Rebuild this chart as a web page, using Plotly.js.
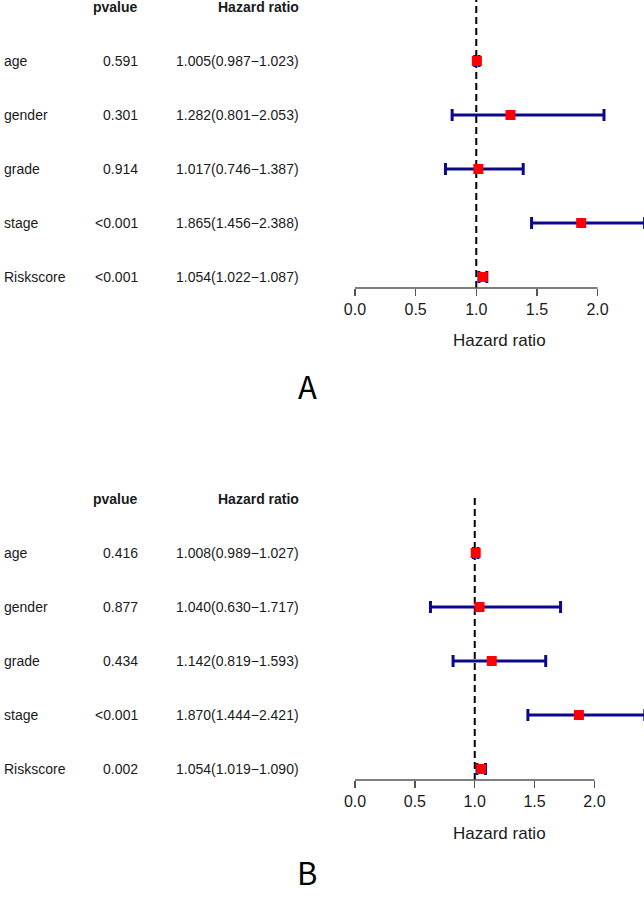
<!DOCTYPE html>
<html>
<head>
<meta charset="utf-8">
<script src="https://cdn.plot.ly/plotly-3.0.1.min.js"></script>
<style>
  body { margin: 0; padding: 0; background: #fff; }
  #chartDiv { width: 644px; height: 903px; }
</style>
</head>
<body>
<div id="chartDiv"></div>
<script>
// chart data
var labels = ['age', 'gender', 'grade', 'stage', 'Riskscore'];

// panel A
var hrA = [1.005, 1.282, 1.017, 1.865, 1.054];
var lowA = [0.987, 0.801, 0.746, 1.456, 1.022];
var highA = [1.023, 2.053, 1.387, 2.388, 1.087];
var pA = ['0.591', '0.301', '0.914', '<0.001', '<0.001'];

// panel B
var hrB = [1.008, 1.040, 1.142, 1.870, 1.054];
var lowB = [0.989, 0.630, 0.819, 1.444, 1.019];
var highB = [1.027, 1.717, 1.593, 2.421, 1.090];
var pB = ['0.416', '0.877', '0.434', '<0.001', '0.002'];

var tickVals = [0, 0.5, 1, 1.5, 2];
var tickText = ['0.0', '0.5', '1.0', '1.5', '2.0'];

var W = 644, H = 903;
var FONT = 'Liberation Sans, Arial, sans-serif';
function px(x) { return x / W; }       // pixel -> paper x
function py(y) { return 1 - y / H; }   // pixel -> paper y

// rows go top to bottom: age on top
var rows = labels.map(function (d, i) { return labels.length - i; });

function hrText(h, l, u) {
    return h.toFixed(3) + '(' + l.toFixed(3) + '\u2212' + u.toFixed(3) + ')';
}

function forestTrace(hr, low, high, xa, ya) {
    return {
        x: hr,
        y: rows,
        xaxis: xa,
        yaxis: ya,
        type: 'scatter',
        mode: 'markers',
        cliponaxis: false,
        hoverinfo: 'skip',
        marker: { symbol: 'square', size: 10, color: '#ff0000' },
        error_x: {
            type: 'data',
            symmetric: false,
            array: high.map(function (u, i) { return u - hr[i]; }),
            arrayminus: low.map(function (l, i) { return hr[i] - l; }),
            color: '#0a0a8c',
            thickness: 3,
            width: 6
        }
    };
}

var data = [
    forestTrace(hrA, lowA, highA, 'x', 'y'),
    forestTrace(hrB, lowB, highB, 'x2', 'y2')
];

// the text table on the left, plus headers and axis labels
var annotations = [];
function tableNotes(pv, hr, low, high, yref, xlabY) {
    var base = { showarrow: false, yref: yref, xref: 'paper', font: { family: FONT, size: 14, color: '#1a1a1a' } };
    annotations.push(Object.assign({}, base, { x: px(140), y: 6, xanchor: 'right', text: '<b>pvalue</b>' }));
    annotations.push(Object.assign({}, base, { x: px(301), y: 6, xanchor: 'right', text: '<b>Hazard ratio</b>' }));
    labels.forEach(function (lab, i) {
        annotations.push(Object.assign({}, base, { x: px(2), y: rows[i], xanchor: 'left', text: lab }));
        annotations.push(Object.assign({}, base, { x: px(140), y: rows[i], xanchor: 'right', text: pv[i] }));
        annotations.push(Object.assign({}, base, { x: px(301), y: rows[i], xanchor: 'right', text: hrText(hr[i], low[i], high[i]) }));
    });
    // x label centred on 0..max(upper), as R's forest plot does
    annotations.push({
        showarrow: false, xref: yref === 'y' ? 'x' : 'x2', yref: 'paper',
        x: Math.max.apply(null, high) / 2, y: py(xlabY), xanchor: 'center', yanchor: 'middle',
        text: 'Hazard ratio', font: { family: FONT, size: 17, color: '#1a1a1a' }
    });
}
tableNotes(pA, hrA, lowA, highA, 'y', 340);
tableNotes(pB, hrB, lowB, highB, 'y2', 833);

// panel letters
annotations.push({ showarrow: false, xref: 'paper', yref: 'paper', x: px(307), y: py(385), text: 'A',
    font: { family: 'Noto Sans CJK SC, DejaVu Sans, sans-serif', size: 31, color: '#000' } });
annotations.push({ showarrow: false, xref: 'paper', yref: 'paper', x: px(307), y: py(896), text: 'B',
    font: { family: 'Noto Sans CJK SC, DejaVu Sans, sans-serif', size: 31, color: '#000' } });

function xAxis(range, anchor) {
    return {
        domain: [0, 1], range: range, anchor: anchor,
        tickmode: 'array', tickvals: tickVals, ticktext: tickText,
        ticks: 'outside', ticklen: 7, tickwidth: 1.5, tickcolor: '#555',
        showline: false, showgrid: false, zeroline: false, fixedrange: true,
        tickfont: { family: FONT, size: 16, color: '#1a1a1a' }
    };
}
function yAxis(domain, range, anchor) {
    return {
        domain: domain, range: range, anchor: anchor, visible: false,
        showgrid: false, zeroline: false, fixedrange: true
    };
}

// dashed reference line at HR = 1 and short axis line from 0 to 2
var shapes = [];
[['x', 'y'], ['x2', 'y2']].forEach(function (ax) {
    shapes.push({ type: 'line', layer: 'below', xref: ax[0], yref: ax[1] + ' domain',
        x0: 1, x1: 1, y0: 0, y1: 1, line: { color: '#000', width: 2, dash: '7px,4px' } });
    shapes.push({ type: 'line', layer: 'below', xref: ax[0], yref: ax[1] + ' domain',
        x0: tickVals[0], x1: tickVals[tickVals.length - 1], y0: 0, y1: 0, line: { color: '#555', width: 1.5 } });
});

var layout = {
    width: W, height: H,
    margin: { l: 0, r: 0, t: 0, b: 0, pad: 0 },
    showlegend: false,
    paper_bgcolor: '#fff', plot_bgcolor: '#fff',
    font: { family: FONT },
    xaxis: xAxis([-2.927, 2.383], 'y'),
    yaxis: yAxis([1 - 288 / H, 1], [0.796, 6.13], 'x'),
    xaxis2: xAxis([-2.966, 2.414], 'y2'),
    yaxis2: yAxis([1 - 780 / H, 1 - 495 / H], [0.796, 6.074], 'x2'),
    shapes: shapes,
    annotations: annotations
};

Plotly.newPlot('chartDiv', data, layout, { displayModeBar: false, staticPlot: true });
</script>
</body>
</html>
